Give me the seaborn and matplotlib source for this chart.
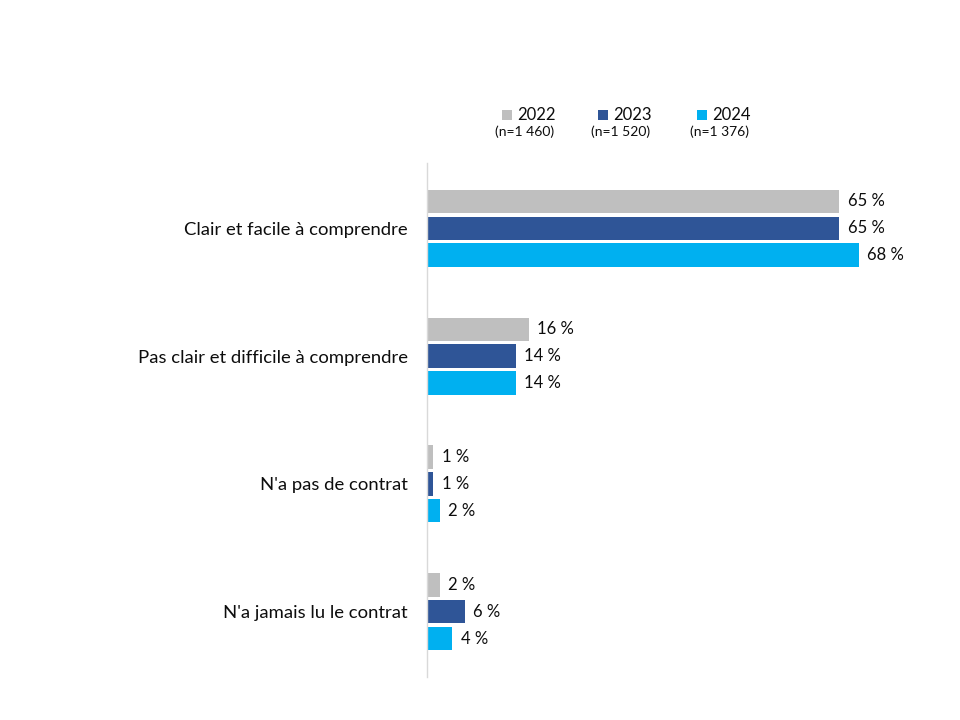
import matplotlib
matplotlib.use("Agg")
import matplotlib.pyplot as plt
import seaborn as sns
import pandas as pd
from matplotlib.patches import Rectangle

categories = ["Clair et facile à comprendre", "Pas clair et difficile à comprendre",
              "N'a pas de contrat", "N'a jamais lu le contrat"]
years = ["2022", "2023", "2024"]
sample_sizes = ["(n=1 460)", "(n=1 520)", "(n=1 376)"]
v2022 = [65, 16, 1, 2]
v2023 = [65, 14, 1, 6]
v2024 = [68, 14, 2, 4]
colors = ["#bfbfbf", "#2f5597", "#00b0f0"]

rows = []
for yr, vals in zip(years, [v2022, v2023, v2024]):
    for c, v in zip(categories, vals):
        rows.append({"cat": c, "year": yr, "val": v})
df = pd.DataFrame(rows)

sns.set_theme(style="white")
plt.rcParams["font.family"] = ["Lato", "DejaVu Sans"]

fig = plt.figure(figsize=(9.6, 7.2), dpi=100)
ax = fig.add_axes([427/960, 1-677/720, (941-427)/960, (677-163)/720])

sns.barplot(data=df, x="val", y="cat", hue="year", order=categories, hue_order=years,
            palette=colors, orient="h", width=0.63, gap=0.13, ax=ax, legend=False,
            saturation=1, linewidth=0, edgecolor="none")

for cont in ax.containers:
    ax.bar_label(cont, labels=[f"{int(v)} %" for v in cont.datavalues], padding=6,
                 fontsize=12, color="#0d0d0d")

ax.set_xlim(0, 81)
ax.set_ylim(3.51, -0.51)
ax.set_xlabel("")
ax.set_ylabel("")
ax.set_xticks([])
for s in ["top", "right", "bottom"]:
    ax.spines[s].set_visible(False)
ax.spines["left"].set_color("#d9d9d9")
ax.spines["left"].set_linewidth(1)
ax.tick_params(axis="y", length=0, pad=14, labelsize=13.3, labelcolor="#0d0d0d")

# legend
sq_x = [502, 598, 697]
for i, (yr, n) in enumerate(zip(years, sample_sizes)):
    x0 = sq_x[i]
    fig.add_artist(Rectangle((x0/960, 1-120/720), 10/960, 10/720, transform=fig.transFigure,
                             facecolor=colors[i], edgecolor="none"))
    fig.text((x0+15)/960, 1-115/720, yr, fontsize=12, va="center", ha="left", color="#0d0d0d")
    fig.text((x0+23)/960, 1-132/720, n, fontsize=10, va="center", ha="center", color="#0d0d0d")

fig.savefig("out.png", dpi=100)
